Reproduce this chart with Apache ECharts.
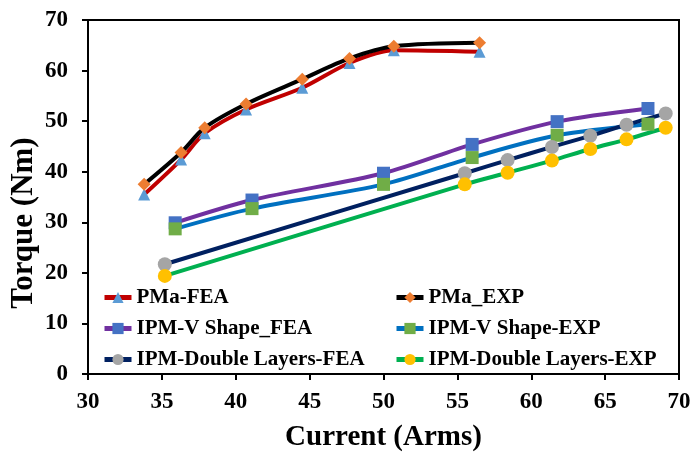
<!DOCTYPE html>
<html>
<head>
<meta charset="utf-8">
<script src="https://cdn.jsdelivr.net/npm/echarts@6/dist/echarts.min.js"></script>
<style>
  html, body { margin: 0; padding: 0; background: #fff; }
  #chart { width: 692px; height: 457px; }
</style>
</head>
<body>
<div id="chart"></div>
<script>
// Current (Arms) values for each machine family
const currentPMa = [33.8, 36.3, 37.9, 40.7, 44.5, 47.7, 50.7, 56.5];
const currentVShape = [35.9, 41.1, 50.0, 56.0, 61.75, 67.9];
const currentDouble = [35.2, 55.5, 58.4, 61.4, 64.0, 66.45, 69.1];

// Torque (Nm) values
const torquePMaFEA = [35.5, 42.4, 47.6, 52.3, 56.6, 61.5, 64.0, 63.7];
const torquePMaEXP = [37.5, 43.8, 48.7, 53.4, 58.3, 62.4, 64.8, 65.5];
const torqueVShapeFEA = [29.9, 34.4, 39.7, 45.4, 49.9, 52.5];
const torqueVShapeEXP = [28.7, 32.7, 37.5, 42.8, 47.2, 49.4];
const torqueDoubleFEA = [21.7, 39.7, 42.3, 44.9, 47.1, 49.3, 51.5];
const torqueDoubleEXP = [19.4, 37.5, 39.8, 42.2, 44.5, 46.4, 48.7];

const seriesNames = [
  'PMa-FEA', 'PMa_EXP',
  'IPM-V Shape_FEA', 'IPM-V Shape-EXP',
  'IPM-Double Layers-FEA', 'IPM-Double Layers-EXP'
];

const FONT = '"Liberation Serif", "Times New Roman", serif';

function pairs(xs, ys) {
  return xs.map((x, i) => [x, ys[i]]);
}

function lineSeries(name, xs, ys, lineColor, symbol, symbolColor, symbolSize) {
  return {
    name: name,
    type: 'line',
    data: pairs(xs, ys),
    smooth: 0.3,
    symbol: symbol,
    symbolSize: symbolSize,
    lineStyle: { color: lineColor, width: 4 },
    itemStyle: { color: symbolColor, borderWidth: 0 },
    emphasis: { disabled: true }
  };
}

const legendCommon = {
  orient: 'vertical',
  top: 287,
  padding: 0,
  itemWidth: 27,
  itemHeight: 14,
  itemGap: 10,
  itemTextGap: 0,
  lineStyle: { width: 5 },
  textStyle: { fontFamily: FONT, fontWeight: 'bold', fontSize: 21, color: '#000' }
};

const chart = echarts.init(document.getElementById('chart'), null, { renderer: 'canvas' });

chart.setOption({
  animation: false,
  backgroundColor: '#fff',
  grid: {
    left: 88, right: 13, top: 20, bottom: 83,
    outerBoundsMode: 'none',
    containLabel: false,
    show: true, borderColor: '#000', borderWidth: 2
  },
  legend: [
    Object.assign({ left: 102, data: [seriesNames[0], seriesNames[2], seriesNames[4]] }, legendCommon),
    Object.assign({ left: 394, data: [seriesNames[1], seriesNames[3], seriesNames[5]] }, legendCommon)
  ],
  xAxis: {
    type: 'value',
    min: 30, max: 70, interval: 5,
    name: 'Current (Arms)',
    nameLocation: 'middle',
    nameGap: 49,
    nameTextStyle: { fontFamily: FONT, fontWeight: 'bold', fontSize: 29, color: '#000' },
    axisLine: { lineStyle: { color: '#000', width: 2 } },
    axisTick: { show: true, length: 6, lineStyle: { color: '#000', width: 2 } },
    axisLabel: { margin: 17, fontFamily: FONT, fontWeight: 'bold', fontSize: 23, color: '#000' },
    splitLine: { show: false }
  },
  yAxis: {
    type: 'value',
    min: 0, max: 70, interval: 10,
    name: 'Torque (Nm)',
    nameLocation: 'middle',
    nameGap: 49,
    nameMoveOverlap: false,
    nameRotate: 90,
    nameTextStyle: {
      fontFamily: FONT, fontWeight: 'bold', fontSize: 31, color: '#000',
      padding: [0, 52, 0, 0]
    },
    axisLine: { show: true, lineStyle: { color: '#000', width: 2 } },
    axisTick: { show: true, length: 6, lineStyle: { color: '#000', width: 2 } },
    axisLabel: { margin: 20, fontFamily: FONT, fontWeight: 'bold', fontSize: 23, color: '#000' },
    splitLine: { show: false }
  },
  series: [
    lineSeries(seriesNames[0], currentPMa, torquePMaFEA, '#C00000', 'triangle', '#5B9BD5', 12),
    lineSeries(seriesNames[1], currentPMa, torquePMaEXP, '#000000', 'diamond', '#ED7D31', 13),
    lineSeries(seriesNames[2], currentVShape, torqueVShapeFEA, '#7030A0', 'rect', '#4472C4', 13),
    lineSeries(seriesNames[3], currentVShape, torqueVShapeEXP, '#0070C0', 'rect', '#70AD47', 13),
    lineSeries(seriesNames[4], currentDouble, torqueDoubleFEA, '#002060', 'circle', '#A5A5A5', 14),
    lineSeries(seriesNames[5], currentDouble, torqueDoubleEXP, '#00B050', 'circle', '#FFC000', 14)
  ]
});
</script>
</body>
</html>
